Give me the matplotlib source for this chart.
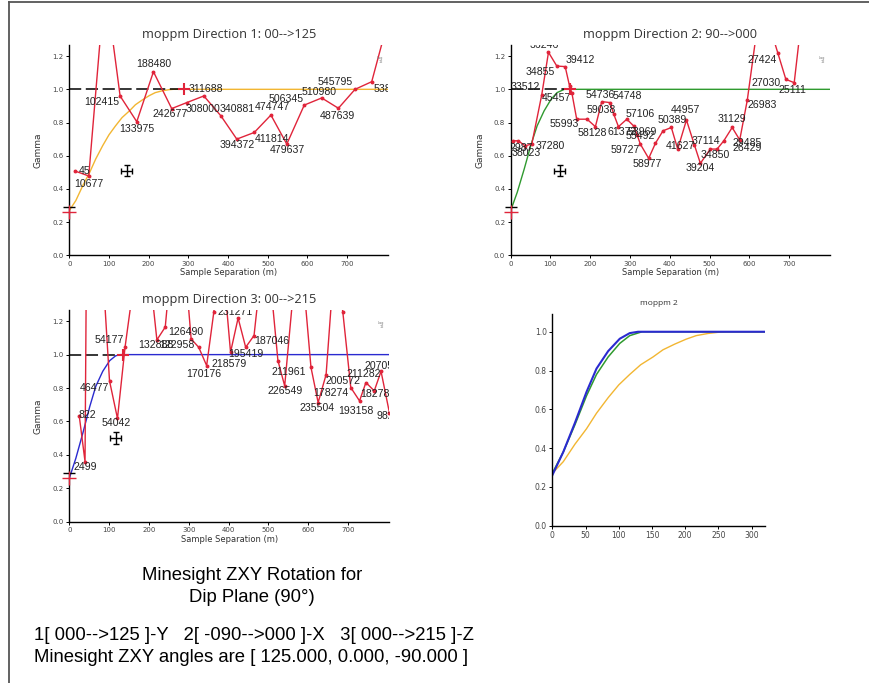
import matplotlib
matplotlib.use("Agg")
import matplotlib.pyplot as plt
from matplotlib.lines import Line2D
from matplotlib.ticker import FormatStrFormatter

# ---------------- data ----------------
# Direction 1 experimental variogram (lag distance, gamma, pair count)
d1_lag = [14, 49, 90, 128, 170, 212, 258, 296, 339, 382, 422, 466, 508, 548,
          592, 636, 678, 720, 762, 805]
d1_gamma = [0.508, 0.478, 1.65, 0.96, 0.805, 1.106, 0.884, 0.92, 0.96, 0.84,
            0.70, 0.74, 0.845, 0.67, 0.905, 0.948, 0.886, 1.0, 1.046, 1.43]
d1_pairs = ["45", "10677", "", "102415", "133975", "188480", "242677", "308000",
            "", "340881", "394372", "411814", "474747", "479637", "506345",
            "510980", "487639", "545795", "538", ""]

# Direction 2 experimental variogram
d2_lag = [5, 19, 36, 53, 78, 95, 116, 137, 148, 154, 166, 192, 213, 229, 250,
          259, 271, 292, 309, 318, 326, 347, 364, 383, 404, 420, 442, 462, 477,
          502, 519, 536, 557, 576, 595, 630, 672, 692, 713, 735]
d2_gamma = [0.69, 0.69, 0.66, 0.67, 0.966, 1.223, 1.14, 1.137, 1.02, 0.976,
            0.82, 0.82, 0.775, 0.926, 0.92, 0.851, 0.775, 0.82, 0.78, 0.725,
            0.67, 0.584, 0.675, 0.75, 0.77, 0.64, 0.815, 0.665, 0.554, 0.64,
            0.64, 0.69, 0.77, 0.695, 0.935, 1.55, 1.217, 1.06, 1.04, 1.5]
d2_pairs = ["2987", "", "38023", "37280", "33512", "36246", "34855", "39412", "",
            "45457", "55993", "", "58128", "54736", "54748", "59038", "61373",
            "57106", "53969", "55492", "59727", "58977", "", "50389", "",
            "41627", "44957", "37114", "39204", "34850", "", "29485", "31129",
            "26429", "26983", "", "27424", "27030", "25111", ""]

# Direction 3 experimental variogram
d3_lag = [25, 39.5, 47, 101, 121, 140, 186, 220, 241, 274, 306, 325, 345, 363,
          380, 405, 424, 443, 464, 493, 524, 541, 577, 607, 625, 645, 667, 687,
          707, 729, 745, 766, 783, 804]
d3_gamma = [0.633, 0.36, 2.96, 0.843, 0.618, 1.044, 1.85, 1.088, 1.165, 2.02,
            1.094, 1.044, 0.934, 1.255, 1.7, 1.014, 1.219, 1.044, 1.114, 1.75,
            0.964, 0.813, 1.75, 0.924, 0.713, 0.88, 1.6, 1.255, 0.803, 0.723,
            0.833, 0.783, 0.9, 0.653]
d3_pairs = ["822", "2499", "", "46477", "54042", "54177", "", "132888", "122958",
            "", "126490", "", "170176", "", "", "218579", "231271", "195419",
            "187046", "", "211961", "226549", "", "", "235504", "178274", "",
            "", "200572", "193158", "211282", "182783", "20705", "982"]

# Fitted models (lag, gamma) per direction
m1_lag = [0, 16.5, 34, 51.5, 66.5, 84, 100, 116.5, 133, 151.5, 166.5, 184,
          201.5, 216.5, 234, 251.5, 262, 320, 805]
m1_gamma = [0.27, 0.33, 0.42, 0.50, 0.58, 0.66, 0.726, 0.78, 0.83, 0.87, 0.907,
            0.936, 0.962, 0.98, 0.991, 0.998, 1.0, 1.0, 1.0]
m2_lag = [0, 16.5, 34, 51.5, 66.5, 84, 101.5, 116.5, 135, 320, 805]
m2_gamma = [0.27, 0.38, 0.52, 0.67, 0.78, 0.87, 0.94, 0.98, 1.0, 1.0, 1.0]
m3_lag = [0, 16.5, 34, 51.5, 66.5, 84, 101.5, 116.5, 129, 320, 805]
m3_gamma = [0.26, 0.38, 0.53, 0.69, 0.81, 0.90, 0.964, 0.993, 1.0, 1.0, 1.0]

sill = 1.0
nugget_marks = [0.29, 0.26]          # black and red nugget ticks at lag 0
ranges = [289, 150, 134]             # range markers per direction
range_labels = ["311688", "", ""]
spread_pt = [(145, 0.51), (123, 0.51), (117, 0.502)]

titles = ["moppm Direction 1: 00-->125", "moppm Direction 2: 90-->000",
          "moppm Direction 3: 00-->215", "moppm 2"]

# ---------------- style ----------------
RED = "#e0243a"
ORANGE = "#f2b632"
GREEN = "#2f9a2f"
BLUE = "#2a2ad0"
W, H = 869, 683
LABEL_FS = 7.6

# pair-count label offsets (points)
d1_off = [(7, 0), (0, -5.5), (0, 0), (-13, -4.6), (0, -5), (0, 5.3), (-1, -4),
          (12, -4.8), (0, 0), (12, 5), (0.5, -4.5), (13, -4.5), (1, 6), (0.5, -4),
          (-13, 4.5), (-2, 4.5), (-1, -5.3), (-14, 5.5), (8, -5.5), (0, 0)]
d2_off = [(6, -5), (0, 0), (1, -5), (13, -1.5), (-12, 6), (-3, 5), (-12, -4),
          (11, 4.5), (0, 0), (-11, -3.5), (-9, -3.5), (0, 0), (-2, -4.5),
          (-1, 5), (12, 5), (-9, 3), (2.5, -3.6), (9.5, 3.6), (6, -4.5),
          (2, -1), (-11, -4.5), (-1, -4), (0, 0), (6.5, 7.5), (0, 0), (2, 2.5),
          (-1, 7), (8, 2.5), (0, -3.6), (3.5, -4), (0, 0), (17, -1.5),
          (0, 5.8), (5.5, -5.5), (11, -3.5), (0, 0), (-11, -4.5), (-14, -2.9),
          (-1, -5), (0, 0)]
d3_off = [(6, 0.5), (0, -4), (0, 0), (-11, -4.8), (-1, -3.1), (-11.5, 5),
          (0, 0), (-1, -4), (8, -13), (0, 0), (-4, 4.8), (0, 0), (-2, -6),
          (0, 0), (0, 0), (-1, -8.4), (-2, 4.4), (0, -4.8), (12.5, -3.6),
          (0, 0), (8, -8.4), (0, -3.6), (0, 0), (0, 0), (-0.5, -3.6),
          (3.6, -13), (0, 0), (0, 0), (-5.5, 4.8), (-2.4, -7.2), (-1.2, 6),
          (2.4, -2.4), (-1.2, 4.1), (-3, -2.4)]


def frac(left, top, right, bottom):
    return [left / W, 1 - bottom / H, (right - left) / W, (bottom - top) / H]


def style_axes(ax, xmax, ymax, xticks, yticks, tick_fs=5):
    ax.set_xlim(0, xmax)
    ax.set_ylim(0, ymax)
    ax.set_xticks(xticks)
    ax.set_yticks(yticks)
    ax.yaxis.set_major_formatter(FormatStrFormatter("%.1f"))
    for s in ("top", "right"):
        ax.spines[s].set_visible(False)
    for s in ("left", "bottom"):
        ax.spines[s].set_linewidth(1.0)
        ax.spines[s].set_color("black")
    ax.tick_params(labelsize=tick_fs, length=2.5, width=0.7, pad=1.5,
                   colors="black", labelcolor="#444444")


def variogram_panel(ax, lag, gamma, pairs, offs, mlag, mgamma, mcolor,
                    dash_end, rng, rng_label, spread, title):
    style_axes(ax, 803, 1.267, range(0, 800, 100),
               [0, 0.2, 0.4, 0.6, 0.8, 1.0, 1.2])
    ax.set_title(title, fontsize=9.2, color="#333333", pad=5,
                 family="Open Sans")
    ax.set_xlabel("Sample Separation (m)", fontsize=6, labelpad=1,
                  color="#333333")
    ax.set_ylabel("Gamma", fontsize=6.5, labelpad=7, color="#333333")
    # model and sill
    ax.plot(mlag, mgamma, color=mcolor, lw=1.0, zorder=2)
    ax.plot([0, dash_end], [sill, sill], color="black", lw=1.1,
            dashes=(8, 3), zorder=2)
    # experimental curve
    ax.plot(lag, gamma, color=RED, lw=1.0, marker="o", ms=1.8,
            mfc=RED, mec=RED, zorder=3)
    for xv, yv, t, o in zip(lag, gamma, pairs, offs):
        if t and yv < 1.27:
            ax.annotate(t, (xv, yv), xytext=o, textcoords="offset points",
                        ha="center", va="center", fontsize=LABEL_FS,
                        family="Liberation Sans", color="#222222", zorder=4,
                        annotation_clip=False, clip_on=True)
    # nugget ticks
    ax.plot([0], [nugget_marks[0]], marker="_", ms=9, mew=1.0, color="black",
            clip_on=False, zorder=5)
    ax.plot([0], [nugget_marks[1]], marker="+", ms=10, mew=1.0, color=RED,
            clip_on=False, zorder=5)
    # range marker
    ax.plot([rng], [sill], marker="+", ms=8, mew=1.5, color=RED, zorder=5)
    if rng_label:
        ax.annotate(rng_label, (rng, sill), xytext=(3, 0),
                    textcoords="offset points", ha="left", va="center",
                    fontsize=LABEL_FS, family="Liberation Sans",
                    color="#222222")
    # spread cross with error bars
    ax.errorbar([spread[0]], [spread[1]], xerr=[14], yerr=[0.035],
                fmt="none", ecolor="black", elinewidth=1.0, capsize=2,
                capthick=1.0, zorder=5)
    # lag legend
    ax.text(0.985, 0.93, "Lag\n12", transform=ax.transAxes, fontsize=2.5,
            ha="right", va="center", color="#777777", linespacing=1.0)


fig = plt.figure(figsize=(W / 100, H / 100), dpi=100)

ax1 = fig.add_axes(frac(69.3, 45, 388, 255.3))
variogram_panel(ax1, d1_lag, d1_gamma, d1_pairs, d1_off, m1_lag, m1_gamma,
                ORANGE, ranges[0], ranges[0], range_labels[0], spread_pt[0],
                titles[0])

ax2 = fig.add_axes(frac(510.7, 45, 830, 255.3))
variogram_panel(ax2, d2_lag, d2_gamma, d2_pairs, d2_off, m2_lag, m2_gamma,
                GREEN, 140, ranges[1], range_labels[1], spread_pt[1], titles[1])

ax3 = fig.add_axes(frac(69.3, 310, 389, 521.7))
variogram_panel(ax3, d3_lag, d3_gamma, d3_pairs, d3_off, m3_lag, m3_gamma,
                BLUE, 130, ranges[2], range_labels[2], spread_pt[2], titles[2])

# combined model panel
ax4 = fig.add_axes(frac(552.3, 314.3, 765, 525.7))
style_axes(ax4, 320, 1.09, range(0, 301, 50), [0, 0.2, 0.4, 0.6, 0.8, 1.0],
           tick_fs=5.5)
ax4.set_title(titles[3], fontsize=6, color="#333333", pad=7,
              family="Open Sans")
ax4.plot(m1_lag, m1_gamma, color=ORANGE, lw=1.0)
ax4.plot(m2_lag, m2_gamma, color=GREEN, lw=1.1)
ax4.plot(m3_lag, m3_gamma, color=BLUE, lw=1.5)

# page text
TF = "Liberation Sans"
FS = 13.3
fig.text(252 / W, 1 - 576 / H, "Minesight ZXY Rotation for", ha="center",
         va="center", fontsize=FS, family=TF)
fig.text(252 / W, 1 - 598 / H, "Dip Plane (90\u00b0)", ha="center",
         va="center", fontsize=FS, family=TF)
fig.text(34 / W, 1 - 635 / H,
         "1[ 000-->125 ]-Y   2[ -090-->000 ]-X   3[ 000-->215 ]-Z",
         ha="left", va="center", fontsize=FS, family=TF)
fig.text(34 / W, 1 - 657 / H,
         "Minesight ZXY angles are [ 125.000, 0.000, -90.000 ]",
         ha="left", va="center", fontsize=FS, family=TF)

# page frame
fig.add_artist(Line2D([9 / W, 9 / W], [0, 1 - 2 / H], transform=fig.transFigure,
                      color="#555555", lw=1.3))
fig.add_artist(Line2D([9 / W, 1], [1 - 2 / H, 1 - 2 / H],
                      transform=fig.transFigure, color="#555555", lw=1.3))

fig.savefig("out.png", dpi=100)
